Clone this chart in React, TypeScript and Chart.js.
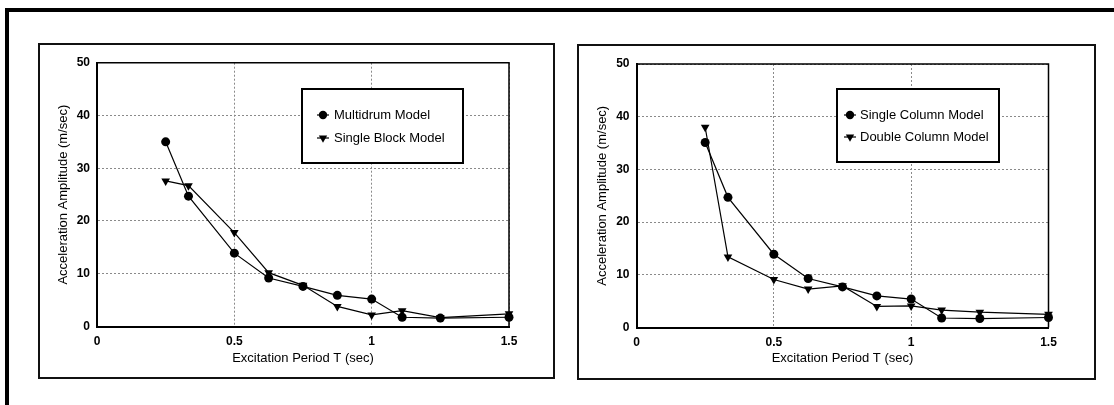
import React, { useEffect, useRef } from "react";
import { Chart, registerables } from "chart.js";

Chart.register(...registerables);

// ---- data ----
const periods = [0.25, 0.333, 0.5, 0.625, 0.75, 0.875, 1.0, 1.111, 1.25, 1.5];
const multidrum = [35, 24.7, 13.9, 9.2, 7.6, 5.9, 5.2, 1.75, 1.6, 1.75];
const singleBlock = [27.6, 26.7, 17.8, 10.2, 7.8, 3.8, 2.2, 3.0, 1.7, 2.4];
const singleColumn = [35.1, 24.7, 13.9, 9.3, 7.7, 6.0, 5.4, 1.8, 1.7, 1.9];
const doubleColumn = [38, 13.4, 9.1, 7.3, 7.9, 4.0, 4.1, 3.3, 2.9, 2.5];

const leftLabels = ["Multidrum Model", "Single Block Model"];
const rightLabels = ["Single Column Model", "Double Column Model"];
const xTitle = "Excitation Period T (sec)";
const yTitle = "Acceleration Amplitude (m/sec)";
const xRange = [0, 1.5];
const xStep = 0.5;
const yRange = [0, 50];
const yStep = 10;

const FONT = "'Liberation Sans', Arial, Helvetica, sans-serif";

function drawMarker(ctx: CanvasRenderingContext2D, style: string, x: number, y: number, r: number) {
  ctx.save();
  ctx.fillStyle = "#000";
  ctx.beginPath();
  if (style === "triangle") {
    ctx.moveTo(x, y + r);
    ctx.lineTo(x - r * 0.866, y - r * 0.5);
    ctx.lineTo(x + r * 0.866, y - r * 0.5);
    ctx.closePath();
  } else {
    ctx.arc(x, y, r, 0, Math.PI * 2);
  }
  ctx.fill();
  ctx.restore();
}

const plotBoxPlugin = {
  id: "plotBox",
  afterDraw(chart: any, _args: any, opts: any) {
    const { ctx, chartArea: a } = chart;
    ctx.save();
    ctx.strokeStyle = "#000";
    ctx.lineWidth = 1.5;
    ctx.setLineDash([]);
    ctx.beginPath();
    ctx.moveTo(a.left, a.top);
    ctx.lineTo(a.right, a.top);
    ctx.lineTo(a.right, a.bottom);
    ctx.stroke();

    const b = opts && opts.box;
    if (b) {
      ctx.fillStyle = "#fff";
      ctx.fillRect(b.x, b.y, b.w, b.h);
      ctx.lineWidth = 2;
      ctx.strokeStyle = "#000";
      ctx.strokeRect(b.x, b.y, b.w, b.h);
      ctx.font = `13px ${FONT}`;
      ctx.textBaseline = "middle";
      ctx.textAlign = "left";
      chart.data.datasets.forEach((ds: any, i: number) => {
        const y = b.rowY[i];
        ctx.strokeStyle = "#000";
        ctx.lineWidth = 1.2;
        ctx.beginPath();
        ctx.moveTo(b.markerX - 6, y);
        ctx.lineTo(b.markerX + 6, y);
        ctx.stroke();
        drawMarker(ctx, ds.pointStyle, b.markerX, y, ds.pointStyle === "triangle" ? 4.8 : 4.2);
        ctx.fillStyle = "#000";
        ctx.fillText(ds.label, b.textX, y);
      });
    }
    ctx.restore();
  },
};

type PanelProps = {
  left: number;
  top: number;
  width: number;
  height: number;
  plotLeft: number;
  plotTop: number;
  plotRight: number;
  plotBottom: number;
  labels: string[];
  series: number[][];
  legend: { x: number; y: number; w: number; h: number; markerX: number; textX: number; rowY: number[] };
  frame: { left: number; top: number; width: number; height: number };
};

function Panel(p: PanelProps) {
  const ref = useRef<HTMLCanvasElement | null>(null);
  useEffect(() => {
    if (!ref.current) return;
    const styles = ["circle", "triangle"];
    const chart = new Chart(ref.current, {
      type: "line",
      data: {
        datasets: p.series.map((vals, i) => ({
          label: p.labels[i],
          data: periods.map((x, j) => ({ x, y: vals[j] })),
          borderColor: "#000",
          backgroundColor: "#000",
          borderWidth: 1.2,
          pointStyle: styles[i],
          pointRotation: styles[i] === "triangle" ? 180 : 0,
          pointRadius: styles[i] === "triangle" ? 5 : 4.5,
          pointBorderWidth: 0,
          pointBackgroundColor: "#000",
          tension: 0,
          fill: false,
          clip: false,
        })),
      },
      options: {
        responsive: false,
        animation: false,
        devicePixelRatio: 1,
        layout: {
          padding: { left: 0, top: p.plotTop, right: p.width - p.plotRight, bottom: 0 },
        },
        plugins: {
          legend: { display: false },
          tooltip: { enabled: false },
          plotBox: { box: p.legend },
        } as any,
        scales: {
          x: {
            type: "linear",
            min: xRange[0],
            max: xRange[1],
            afterFit: (s: any) => {
              s.height = p.height - p.plotBottom;
            },
            ticks: {
              stepSize: xStep,
              color: "#000",
              padding: 8,
              font: { family: FONT, size: 12, weight: "bold" },
              callback: (v: any) => String(Number(v)),
            },
            grid: { color: "#8a8a8a", lineWidth: 1, drawTicks: false },
            border: { display: true, color: "#000", width: 2, dash: [2, 2] },
            title: {
              display: true,
              text: xTitle,
              color: "#000",
              font: { family: FONT, size: 13 },
              padding: { top: 0, bottom: 12 },
            },
          },
          y: {
            type: "linear",
            min: yRange[0],
            max: yRange[1],
            afterFit: (s: any) => {
              s.width = p.plotLeft;
            },
            ticks: {
              stepSize: yStep,
              color: "#000",
              padding: 7,
              font: { family: FONT, size: 12, weight: "bold" },
              callback: (v: any) => String(Number(v)),
            },
            grid: { color: "#8a8a8a", lineWidth: 1, drawTicks: false },
            border: { display: true, color: "#000", width: 2, dash: [2, 2] },
            title: {
              display: true,
              text: yTitle,
              color: "#000",
              font: { family: FONT, size: 13 },
              padding: { top: 16.7, bottom: 0 },
            },
          },
        },
      } as any,
      plugins: [plotBoxPlugin as any],
    });
    return () => chart.destroy();
  }, []);

  return (
    <>
      <canvas
        ref={ref}
        width={p.width}
        height={p.height}
        style={{ position: "absolute", left: p.left, top: p.top, width: p.width, height: p.height }}
      />
      <div
        style={{
          position: "absolute",
          left: p.frame.left,
          top: p.frame.top,
          width: p.frame.width,
          height: p.frame.height,
          border: "2px solid #111",
          boxSizing: "border-box",
          pointerEvents: "none",
        }}
      />
    </>
  );
}

export default function App() {
  return (
    <div
      style={{
        position: "absolute",
        left: 0,
        top: 0,
        width: 1114,
        height: 405,
        background: "#fff",
        overflow: "hidden",
      }}
    >
      <div style={{ position: "absolute", left: 5, top: 8, width: 1109, height: 4, background: "#000" }} />
      <div style={{ position: "absolute", left: 5, top: 8, width: 4, height: 397, background: "#000" }} />
      <Panel
        left={39}
        top={44}
        width={514}
        height={334}
        plotLeft={58}
        plotTop={18.7}
        plotRight={470}
        plotBottom={282.5}
        labels={leftLabels}
        series={[multidrum, singleBlock]}
        legend={{ x: 263, y: 45, w: 161, h: 74, markerX: 284, textX: 295, rowY: [71, 94] }}
        frame={{ left: 38, top: 43, width: 517, height: 336 }}
      />
      <Panel
        left={578}
        top={45}
        width={517}
        height={333}
        plotLeft={58.5}
        plotTop={19}
        plotRight={470.5}
        plotBottom={282.5}
        labels={rightLabels}
        series={[singleColumn, doubleColumn]}
        legend={{ x: 259, y: 44, w: 162, h: 73, markerX: 272, textX: 282, rowY: [70, 92] }}
        frame={{ left: 577, top: 44, width: 519, height: 336 }}
      />
    </div>
  );
}
